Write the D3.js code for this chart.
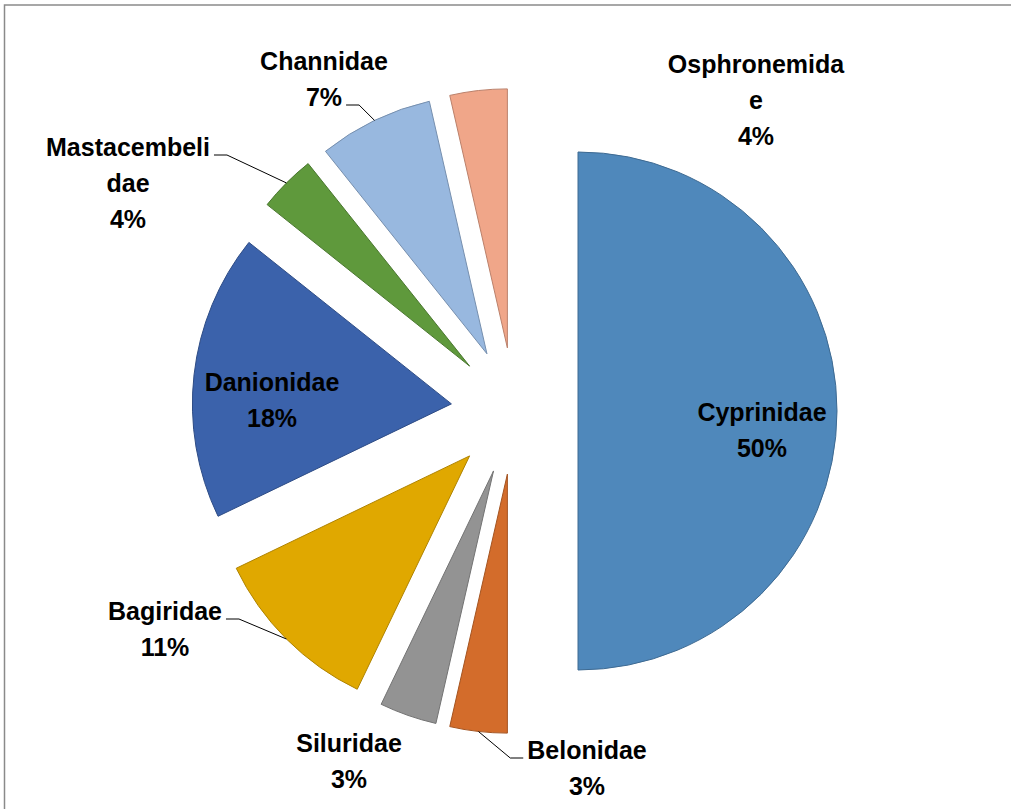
<!DOCTYPE html>
<html><head><meta charset="utf-8">
<script src="https://cdn.jsdelivr.net/npm/d3@7"></script>
<style>html,body{margin:0;padding:0;background:#fff;overflow:hidden} svg{display:block}</style>
</head><body>
<svg id="chart" width="1011" height="809"></svg>
<script>
// ---- data ----
const categories = ["Cyprinidae","Belonidae","Siluridae","Bagiridae","Danionidae","Mastacembelidae","Channidae","Osphronemidae"];
const counts     = [14, 1, 1, 3, 5, 1, 2, 1];
const pctLabels  = ["50%","3%","3%","11%","18%","4%","7%","4%"];
const nameLines  = [["Cyprinidae"],["Belonidae"],["Siluridae"],["Bagiridae"],["Danionidae"],["Mastacembeli","dae"],["Channidae"],["Osphronemida","e"]];
const colors     = ["#4F88BB","#D36C2B","#939393","#E0A800","#3B62AB","#5F993C","#98B8DF","#F0A689"];

// ---- layout (label block: center x offset, first-baseline y offset from pie centre; leader info) ----
const labelLayout = [
  {dx: 247.5, dy: 10},
  {dx: 72.5,  dy: 348, leader: {line: 0, side: "left"}},
  {dx: -165.5,dy: 341},
  {dx: -349.5,dy: 209, leader: {line: 0, side: "right"}},
  {dx: -242.5,dy: -20},
  {dx: -386.5,dy: -255, leader: {line: 0, side: "right"}},
  {dx: -190.5,dy: -341, leader: {line: 1, side: "right"}},
  {dx: 241.5, dy: -338}
];

const W = 1011, H = 809;
const cx = 514.5, cy = 411, R = 259, explode = 63.5, lineH = 36;

const svg = d3.select("#chart");
svg.append("rect").attr("x", 4.5).attr("y", 5).attr("width", 1200).attr("height", 1000)
  .attr("fill", "none").attr("stroke", "#8a8a8a").attr("stroke-width", 1.5);

const data = categories.map((c, i) => ({name: c, value: counts[i], i}));
const pie = d3.pie().value(d => d.value).sort(null);
const arcs = pie(data);
const arcGen = d3.arc().innerRadius(0).outerRadius(R);

const g = svg.append("g").attr("transform", `translate(${cx},${cy})`);

function offset(a) {
  const m = (a.startAngle + a.endAngle) / 2;
  return [explode * Math.sin(m), -explode * Math.cos(m)];
}

g.selectAll("path.slice").data(arcs).join("path")
  .attr("class", "slice")
  .attr("transform", d => `translate(${offset(d)})`)
  .attr("d", arcGen)
  .attr("fill", d => colors[d.data.i])
  .attr("stroke", d => d3.color(colors[d.data.i]).darker(0.7))
  .attr("stroke-width", 1);

const font = "'Liberation Sans', Arial, sans-serif";
arcs.forEach(a => {
  const i = a.data.i;
  const L = labelLayout[i];
  const lines = nameLines[i].concat([pctLabels[i]]);
  const tg = g.append("g");
  const texts = lines.map((t, k) => tg.append("text")
    .attr("x", L.dx).attr("y", L.dy + k * lineH)
    .attr("text-anchor", "middle")
    .attr("font-family", font).attr("font-weight", "bold").attr("font-size", 25)
    .attr("fill", "#000").text(t));
  if (L.leader) {
    const te = texts[L.leader.line];
    const w = te.node().getComputedTextLength();
    const yL = L.dy + L.leader.line * lineH - 1;
    const endX = L.leader.side === "right" ? L.dx + w / 2 + 4 : L.dx - w / 2 - 4;
    const elbowX = L.leader.side === "right" ? endX + 13 : endX - 13;
    const m = (a.startAngle + a.endAngle) / 2;
    const [ox, oy] = offset(a);
    const px = ox + R * Math.sin(m), py = oy - R * Math.cos(m);
    tg.append("path")
      .attr("d", d3.line()([[px, py], [elbowX, yL], [endX, yL]]))
      .attr("fill", "none").attr("stroke", "#000").attr("stroke-width", 1);
  }
});
</script>
</body></html>
